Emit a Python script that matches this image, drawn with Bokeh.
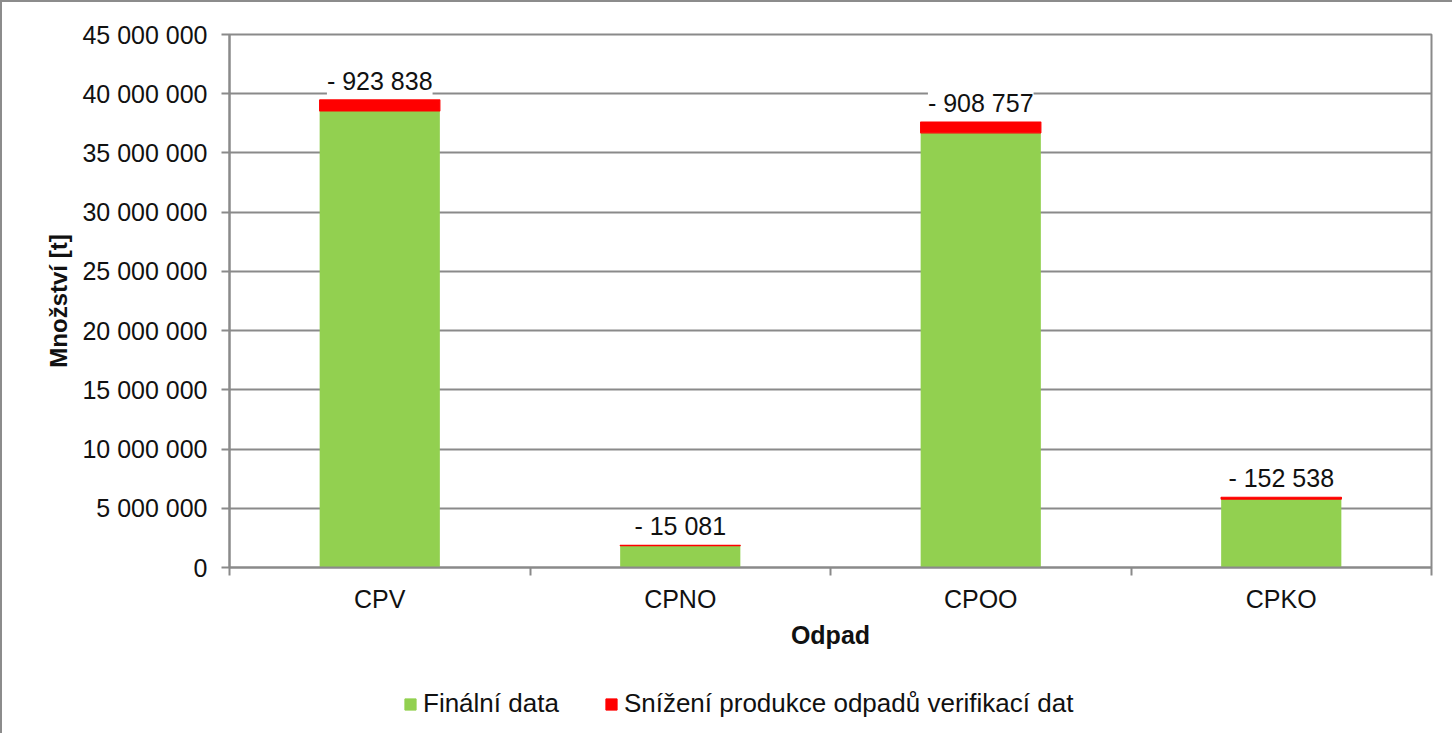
from bokeh.plotting import figure
from bokeh.layouts import column
from bokeh.models import (ColumnDataSource, FixedTicker, CustomJSTickFormatter, LabelSet,
                          Legend, LegendItem, Range1d)
from bokeh.core.properties import value
from bokeh.embed import file_html
from bokeh.resources import INLINE

categories = ["CPV", "CPNO", "CPOO", "CPKO"]
final_data = [38_550_000, 1_850_000, 36_700_000, 5_780_000]
reduction = [923_838, 15_081, 908_757, 152_538]
reduction_labels = ["- 923 838", "- 15 081", "- 908 757", "- 152 538"]
y_ticks = [0, 5_000_000, 10_000_000, 15_000_000, 20_000_000, 25_000_000,
           30_000_000, 35_000_000, 40_000_000, 45_000_000]
series_names = ["Finální data", "Snížení produkce odpadů verifikací dat"]
series_colors = ["#92d050", "#ff0000"]

FONT_NAME = "Liberation Sans"
FONT = value(FONT_NAME)
GREY = "#8a8a8a"
TXT = "#111111"

x = [i + 0.5 for i in range(len(categories))]
total = [f + r for f, r in zip(final_data, reduction)]
src = ColumnDataSource(dict(x=x, final=final_data, total=total, label=reduction_labels))

p = figure(frame_width=1200, frame_height=531,
           x_range=Range1d(0, len(categories)), y_range=Range1d(0, 45_000_000),
           output_backend="svg", toolbar_location=None,
           min_border_left=227, min_border_right=23, min_border_top=32, min_border_bottom=100)
p.styles = {"border-left": "2px solid #8c8c8c", "border-top": "2px solid #8c8c8c"}
p.background_fill_color = "white"
p.border_fill_color = "white"
p.outline_line_color = GREY
p.outline_line_width = 2

p.vbar(x="x", top="final", bottom=0, width=0.4, source=src,
       fill_color=series_colors[0], line_color=None)
p.vbar(x="x", top="total", bottom="final", width=0.4, source=src,
       fill_color=series_colors[1], line_color=series_colors[1], line_width=1.2)

labels = LabelSet(x="x", y="total", text="label", source=src, text_align="center",
                  text_baseline="alphabetic", y_offset=10, text_font_size="25px",
                  text_font=FONT, text_color=TXT, background_fill_color="white")
p.add_layout(labels)

# Y axis
p.yaxis.ticker = FixedTicker(ticks=y_ticks)
p.yaxis.formatter = CustomJSTickFormatter(
    code=r"return tick.toFixed(0).replace(/\B(?=(\d{3})+(?!\d))/g, ' ');")
p.yaxis.axis_label = "Množství [t]"
p.yaxis.axis_label_text_font = FONT_NAME
p.yaxis.axis_label_text_font_size = "24px"
p.yaxis.axis_label_text_font_style = "bold"
p.yaxis.axis_label_text_color = TXT
p.yaxis.axis_label_standoff = 7
p.yaxis.major_label_text_font = FONT_NAME
p.yaxis.major_label_text_font_size = "25px"
p.yaxis.major_label_text_color = TXT
p.yaxis.major_label_standoff = 14
p.yaxis.major_tick_out = 8
p.yaxis.major_tick_in = 0
p.yaxis.minor_tick_out = 0
p.yaxis.minor_tick_in = 0
p.yaxis.axis_line_color = GREY
p.yaxis.axis_line_width = 2
p.yaxis.major_tick_line_color = GREY
p.yaxis.major_tick_line_width = 2

# X axis
p.xaxis.ticker = FixedTicker(ticks=x, minor_ticks=list(range(len(categories) + 1)))
p.xaxis.major_label_overrides = {xi: c for xi, c in zip(x, categories)}
p.xaxis.axis_label = "Odpad"
p.xaxis.axis_label_text_font = FONT_NAME
p.xaxis.axis_label_text_font_size = "25px"
p.xaxis.axis_label_text_font_style = "bold"
p.xaxis.axis_label_text_color = TXT
p.xaxis.axis_label_standoff = 5
p.xaxis.major_label_text_font = FONT_NAME
p.xaxis.major_label_text_font_size = "25px"
p.xaxis.major_label_text_color = TXT
p.xaxis.major_label_standoff = 9
p.xaxis.major_tick_out = 0
p.xaxis.major_tick_in = 0
p.xaxis.minor_tick_out = 8
p.xaxis.minor_tick_in = 0
p.xaxis.minor_tick_line_color = GREY
p.xaxis.minor_tick_line_width = 2
p.xaxis.axis_line_color = GREY
p.xaxis.axis_line_width = 2

p.xgrid.visible = False
p.ygrid.ticker = FixedTicker(ticks=y_ticks)
p.ygrid.grid_line_color = GREY
p.ygrid.grid_line_width = 2

# Legend strip (separate figure below the chart)
leg = figure(width=1450, height=68, x_range=Range1d(0, 1), y_range=Range1d(0, 1),
             x_axis_type=None, y_axis_type=None, output_backend="svg",
             toolbar_location=None, min_border=0)
leg.styles = {"border-left": "2px solid #8c8c8c"}
leg.outline_line_color = None
leg.background_fill_color = "white"
leg.border_fill_color = "white"
leg.xgrid.visible = False
leg.ygrid.visible = False
items = []
for name, col in zip(series_names, series_colors):
    # legend-only renderer: a single NaN point, nothing is drawn in the frame
    rr = leg.vbar(x=[float("nan")], top=[float("nan")], width=0.4,
                  fill_color=col, line_color=col, line_width=1)
    items.append(LegendItem(label=name, renderers=[rr]))
legend = Legend(items=items, orientation="horizontal", location=(174, 14),
                glyph_width=14, glyph_height=14, label_standoff=6, spacing=45,
                label_text_font=FONT_NAME, label_text_font_size="26px", label_text_color=TXT,
                label_height=28, padding=0, margin=0,
                border_line_alpha=0, background_fill_alpha=0)
leg.add_layout(legend)

layout = column(p, leg, spacing=0)
open("out.html", "w").write(file_html(layout, INLINE))
